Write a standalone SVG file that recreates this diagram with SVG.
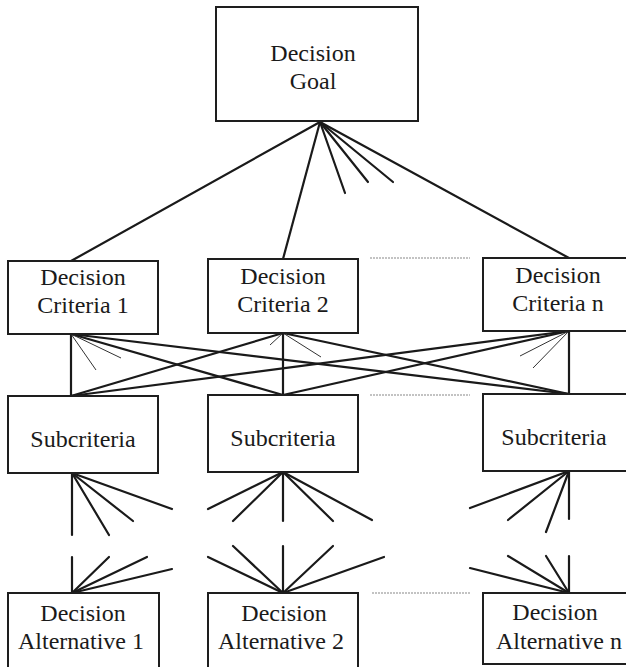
<svg xmlns="http://www.w3.org/2000/svg" width="626" height="667" viewBox="0 0 626 667">
<style>
.box{fill:#fff;stroke:#1e1e1e;stroke-width:2}
.t{font-family:"Liberation Serif","Times New Roman",serif;font-size:24px;fill:#1a1a1a;text-anchor:middle}
.c{stroke:#1a1a1a;stroke-width:2.2;fill:none;stroke-linecap:round}
.thin{stroke:#333;stroke-width:1;fill:none}
.dot{stroke:#888;stroke-width:1.2;stroke-dasharray:2 1;fill:none}
</style>
<rect width="626" height="667" fill="#fff"/>
<g id="connectors">
<!-- goal fan -->
<line class="c" x1="320" y1="122" x2="71" y2="261"/>
<line class="c" x1="320" y1="122" x2="283" y2="259"/>
<line class="c" x1="320" y1="122" x2="345" y2="193"/>
<line class="c" x1="320" y1="122" x2="368" y2="182"/>
<line class="c" x1="320" y1="122" x2="393" y2="182"/>
<line class="c" x1="320" y1="122" x2="569" y2="258"/>
<!-- criteria to subcriteria -->
<line class="c" x1="71" y1="334" x2="71" y2="396"/>
<line class="c" x1="283" y1="333" x2="283" y2="395"/>
<line class="c" x1="569" y1="331" x2="569" y2="394"/>
<line class="c" x1="71" y1="334" x2="283" y2="395"/>
<line class="c" x1="71" y1="334" x2="569" y2="394"/>
<line class="c" x1="283" y1="333" x2="71" y2="396"/>
<line class="c" x1="283" y1="333" x2="569" y2="394"/>
<line class="c" x1="569" y1="331" x2="71" y2="396"/>
<line class="c" x1="569" y1="331" x2="283" y2="395"/>
<line class="thin" x1="71" y1="334" x2="96" y2="370"/>
<line class="thin" x1="71" y1="334" x2="121" y2="358"/>
<line class="thin" x1="283" y1="333" x2="270" y2="345"/>
<line class="thin" x1="283" y1="333" x2="321" y2="357"/>
<line class="thin" x1="569" y1="331" x2="520" y2="356"/>
<line class="thin" x1="569" y1="331" x2="533" y2="368"/>
<!-- subcriteria 1 fans -->
<line class="c" x1="72" y1="473" x2="72" y2="535"/>
<line class="c" x1="72" y1="473" x2="109" y2="535"/>
<line class="c" x1="72" y1="473" x2="133" y2="521"/>
<line class="c" x1="72" y1="473" x2="172" y2="509"/>
<line class="c" x1="72" y1="593" x2="72" y2="557"/>
<line class="c" x1="72" y1="593" x2="109" y2="557"/>
<line class="c" x1="72" y1="593" x2="147" y2="557"/>
<line class="c" x1="72" y1="593" x2="172" y2="569"/>
<!-- subcriteria 2 fans -->
<line class="c" x1="283" y1="472" x2="208" y2="509"/>
<line class="c" x1="283" y1="472" x2="233" y2="521"/>
<line class="c" x1="283" y1="472" x2="283" y2="521"/>
<line class="c" x1="283" y1="472" x2="333" y2="521"/>
<line class="c" x1="283" y1="472" x2="372" y2="520"/>
<line class="c" x1="283" y1="593" x2="208" y2="557"/>
<line class="c" x1="283" y1="593" x2="233" y2="546"/>
<line class="c" x1="283" y1="593" x2="283" y2="546"/>
<line class="c" x1="283" y1="593" x2="333" y2="546"/>
<line class="c" x1="283" y1="593" x2="384" y2="557"/>
<!-- subcriteria n fans -->
<line class="c" x1="569" y1="471" x2="470" y2="508"/>
<line class="c" x1="569" y1="471" x2="508" y2="520"/>
<line class="c" x1="569" y1="471" x2="546" y2="532"/>
<line class="c" x1="569" y1="471" x2="569" y2="519"/>
<line class="c" x1="569" y1="593" x2="470" y2="568"/>
<line class="c" x1="569" y1="593" x2="508" y2="556"/>
<line class="c" x1="569" y1="593" x2="546" y2="556"/>
<line class="c" x1="569" y1="593" x2="569" y2="556"/>
<!-- dotted ellipsis lines -->
<line class="dot" x1="370" y1="258" x2="470" y2="258"/>
<line class="dot" x1="370" y1="395" x2="470" y2="395"/>
<line class="dot" x1="372" y1="593" x2="470" y2="593"/>
</g>
<g id="goal">
<rect class="box" x="216" y="7" width="202" height="114"/>
<text class="t" x="313" y="61">Decision</text>
<text class="t" x="313" y="89">Goal</text>
</g>
<g id="crit1">
<rect class="box" x="8" y="261" width="150" height="73"/>
<text class="t" x="83" y="285">Decision</text>
<text class="t" x="83" y="313">Criteria 1</text>
</g>
<g id="crit2">
<rect class="box" x="208" y="259" width="150" height="74"/>
<text class="t" x="283" y="284">Decision</text>
<text class="t" x="283" y="312">Criteria 2</text>
</g>
<g id="critn">
<rect class="box" x="483" y="258" width="150" height="73"/>
<text class="t" x="558" y="283">Decision</text>
<text class="t" x="558" y="311">Criteria n</text>
</g>
<g id="sub1">
<rect class="box" x="8" y="396" width="150" height="77"/>
<text class="t" x="83" y="447">Subcriteria</text>
</g>
<g id="sub2">
<rect class="box" x="208" y="395" width="150" height="77"/>
<text class="t" x="283" y="446">Subcriteria</text>
</g>
<g id="subn">
<rect class="box" x="483" y="394" width="150" height="77"/>
<text class="t" x="554" y="445">Subcriteria</text>
</g>
<g id="alt1">
<rect class="box" x="8" y="593" width="151" height="80"/>
<text class="t" x="83" y="621">Decision</text>
<text class="t" x="81" y="649">Alternative 1</text>
</g>
<g id="alt2">
<rect class="box" x="208" y="593" width="150" height="80"/>
<text class="t" x="284" y="621">Decision</text>
<text class="t" x="281" y="649">Alternative 2</text>
</g>
<g id="altn">
<rect class="box" x="483" y="593" width="150" height="71"/>
<text class="t" x="555" y="620">Decision</text>
<text class="t" x="559" y="649">Alternative n</text>
</g>
</svg>
